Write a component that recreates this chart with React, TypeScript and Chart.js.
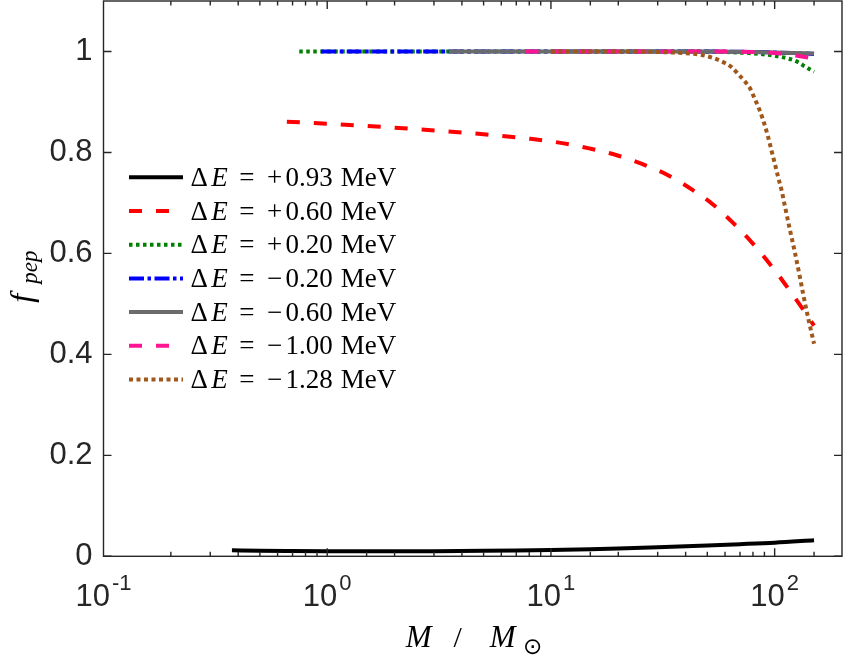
import React, { useEffect, useRef } from 'react';
import { Chart, registerables } from 'chart.js';

Chart.register(...registerables);

// ===== data (M / Msun vs f_pep) =====

const deltaE = ['+0.93', '+0.60', '+0.20', '\u22120.20', '\u22120.60', '\u22121.00', '\u22121.28'];

const mP093 = [0.375, 0.5, 0.7, 1, 1.5, 2, 3, 5, 7, 10, 15, 20, 30, 50, 70, 100, 150];
const fP093 = [0.012, 0.011, 0.0105, 0.0102, 0.01, 0.01, 0.0102, 0.0108, 0.0115, 0.0125, 0.014, 0.0155, 0.018, 0.0215, 0.024, 0.027, 0.032];

const mP060 = [0.66, 1, 2, 5, 8.1, 11.4, 15, 19.7, 25.7, 33.2, 42.4, 53, 65, 79, 94, 111, 132, 150];
const fP060 = [0.861, 0.857, 0.849, 0.836, 0.827, 0.818, 0.8075, 0.7945, 0.7767, 0.7555, 0.7273, 0.697, 0.661, 0.622, 0.582, 0.54, 0.493, 0.457];

const mP020 = [0.75, 1, 2, 5, 10, 20, 40, 60, 75, 87, 101, 115, 127, 138, 150];
const fP020 = [1, 1, 1, 1, 1, 1, 1, 0.999, 0.997, 0.995, 0.991, 0.986, 0.979, 0.969, 0.96];

const mM020 = [0.94, 1, 2, 5, 10, 20, 50, 80, 100, 120, 150];
const fM020 = [1, 1, 1, 1, 1, 1, 1, 0.999, 0.998, 0.997, 0.995];

const mM060 = [3.5, 5, 10, 20, 50, 80, 100, 120, 150];
const fM060 = [1, 1, 1, 1, 1, 0.999, 0.998, 0.997, 0.996];

const mM100 = [7.7, 10, 20, 50, 80, 100, 120, 150];
const fM100 = [1, 1, 1, 1, 0.999, 0.997, 0.993, 0.986];

const mM128 = [10, 20, 30, 41.9, 47.2, 53.2, 60, 64.2, 68.8, 73.8, 77.6, 81.7, 86, 90.6, 93.7, 96.9, 100.3, 103.8, 107.4, 111.2, 117, 123, 129, 135, 142, 150];
const fM128 = [1, 1, 0.999, 0.996, 0.993, 0.987, 0.977, 0.969, 0.955, 0.94, 0.927, 0.905, 0.882, 0.852, 0.829, 0.803, 0.777, 0.75, 0.725, 0.693, 0.647, 0.603, 0.558, 0.513, 0.467, 0.421];

const seriesM = [mP093, mP060, mP020, mM020, mM060, mM100, mM128];
const seriesF = [fP093, fP060, fP020, fM020, fM060, fM100, fM128];

// ===== styles =====

const COLORS = ['#000000', '#ff0000', '#008000', '#0000ff', '#6b6b6b', '#ff1493', '#a0571a'];
const DASHES = [[], [13, 14], [3.5, 3.5], [15, 3.5, 3.5, 3.5], [], [13, 14], [4, 3.5]];
const AXIS = '#262626';

// ===== frame, inward ticks, labels, legend =====

const framePlugin = {
  id: 'frame',
  afterDatasetsDraw(chart: any) {
    const { ctx, chartArea: a, scales } = chart;
    const x = scales.x;
    const y = scales.y;
    ctx.save();
    ctx.strokeStyle = AXIS;
    ctx.lineWidth = 1.4;
    ctx.strokeRect(a.left, a.top, a.right - a.left, a.bottom - a.top);

    const isMajor = (v: number) => Math.abs(Math.log10(v) - Math.round(Math.log10(v))) < 1e-6;
    ctx.beginPath();
    for (const t of x.ticks) {
      const px = x.getPixelForValue(t.value);
      if (px <= a.left + 1 || px >= a.right - 1) continue;
      const len = isMajor(t.value) ? 8 : 4.5;
      ctx.moveTo(px, a.bottom); ctx.lineTo(px, a.bottom - len);
      ctx.moveTo(px, a.top); ctx.lineTo(px, a.top + len);
    }
    for (const t of y.ticks) {
      const py = y.getPixelForValue(t.value);
      ctx.moveTo(a.left, py); ctx.lineTo(a.left + 8, py);
      ctx.moveTo(a.right, py); ctx.lineTo(a.right - 8, py);
    }
    ctx.stroke();

    // x tick labels 10^n
    ctx.fillStyle = AXIS;
    ctx.textBaseline = 'alphabetic';
    ctx.textAlign = 'left';
    for (const t of x.ticks) {
      if (!isMajor(t.value)) continue;
      const px = x.getPixelForValue(t.value);
      const e = Math.round(Math.log10(t.value));
      const sup = e < 0 ? '-' + Math.abs(e) : String(e);
      ctx.font = '31px "Liberation Sans", Arial, sans-serif';
      const wb = ctx.measureText('10').width;
      ctx.font = '22px "Liberation Sans", Arial, sans-serif';
      const ws = ctx.measureText(sup).width;
      const sx = px - (wb + 2 + ws) / 2;
      ctx.font = '31px "Liberation Sans", Arial, sans-serif';
      ctx.fillText('10', sx, a.bottom + 50);
      ctx.font = '22px "Liberation Sans", Arial, sans-serif';
      ctx.fillText(sup, sx + wb + 2, a.bottom + 34);
    }

    // x axis title: M / M_sun
    ctx.fillStyle = '#000';
    const cx = (a.left + a.right) / 2;
    const by = a.bottom + 91;
    ctx.textAlign = 'center';
    ctx.font = 'italic 31px "Liberation Serif", serif';
    ctx.fillText('M', cx - 54, by);
    ctx.font = '30px "Liberation Serif", serif';
    ctx.fillText('/', cx - 15, by);
    ctx.font = 'italic 31px "Liberation Serif", serif';
    ctx.fillText('M', cx + 30, by);
    ctx.font = '23px "DejaVu Sans", sans-serif';
    ctx.textBaseline = 'middle';
    ctx.fillText('\u2299', cx + 60, by + 1);

    // y axis title: f_pep
    const cy = (a.top + a.bottom) / 2;
    ctx.save();
    ctx.translate(32, cy);
    ctx.rotate(-Math.PI / 2);
    ctx.textAlign = 'left';
    ctx.textBaseline = 'alphabetic';
    ctx.font = 'italic 32px "Liberation Serif", serif';
    ctx.fillText('f', -24, 0);
    ctx.font = 'italic 23px "Liberation Serif", serif';
    ctx.fillText('pep', -5, 5);
    ctx.restore();

    // legend
    const em = 27;
    const x0 = a.left + 25.5;
    const x1 = a.left + 79.5;
    const tx = a.left + 84.8;
    chart.data.datasets.forEach((ds: any, i: number) => {
      const ly = a.top + 176.3 + i * 33.7;
      ctx.save();
      ctx.strokeStyle = ds.borderColor;
      ctx.lineWidth = ds.borderWidth;
      ctx.setLineDash(ds.borderDash);
      ctx.beginPath();
      ctx.moveTo(x0, ly);
      ctx.lineTo(x1, ly);
      ctx.stroke();
      ctx.restore();

      const bl = ly + 8.5;
      ctx.fillStyle = '#000';
      ctx.textBaseline = 'alphabetic';
      const put = (txt: string, font: string, at: number, w: number) => {
        ctx.font = font;
        ctx.textAlign = 'center';
        ctx.fillText(txt, tx + (at + w / 2) * em, bl);
      };
      const rm = `${em}px "Liberation Serif", serif`;
      const it = `italic ${em}px "Liberation Serif", serif`;
      put('\u0394', rm, 0, 0.8);
      put('E', it, 0.8, 0.72);
      put('=', rm, 1.79, 0.76);
      put(ds.label.charAt(0), rm, 2.82, 0.76);
      ctx.font = rm;
      ctx.textAlign = 'left';
      ctx.fillText(ds.label.slice(1), tx + 3.6 * em, bl);
      ctx.fillText('MeV', tx + 5.65 * em, bl);
    });
    ctx.restore();
  },
};

// ===== chart =====

function FpepChart() {
  const canvasRef = useRef<HTMLCanvasElement>(null);
  const chartRef = useRef<Chart | null>(null);

  useEffect(() => {
    if (!canvasRef.current) return;
    const ctx = canvasRef.current.getContext('2d');
    if (!ctx) return;

    chartRef.current = new Chart(ctx, {
      type: 'scatter',
      data: {
        datasets: seriesM.map((ms, i) => ({
          label: deltaE[i],
          data: ms.map((m, j) => ({ x: m, y: seriesF[i][j] })),
          borderColor: COLORS[i],
          backgroundColor: COLORS[i],
          borderWidth: 4,
          borderDash: DASHES[i],
          showLine: true,
          pointRadius: 0,
          cubicInterpolationMode: 'monotone',
          order: seriesM.length - i,
        })),
      } as any,
      options: {
        animation: false,
        responsive: true,
        maintainAspectRatio: false,
        layout: { padding: { top: 1, right: 1, left: 0, bottom: 0 } },
        plugins: { legend: { display: false }, tooltip: { enabled: false } },
        scales: {
          x: {
            type: 'logarithmic',
            min: 0.1,
            max: 200,
            grid: { display: false, drawTicks: false },
            border: { display: false },
            ticks: { display: false, autoSkip: false },
            afterFit: (s: any) => { s.height = 105.7; s.paddingLeft = 0; s.paddingRight = 0; },
          },
          y: {
            min: 0,
            max: 1.1,
            grid: { display: false, drawTicks: false },
            border: { display: false },
            ticks: {
              stepSize: 0.2,
              includeBounds: false,
              padding: 11,
              color: AXIS,
              font: { family: '"Liberation Sans", Arial, sans-serif', size: 31 },
              callback: (v: any) => String(Math.round(Number(v) * 10) / 10),
            },
            afterFit: (s: any) => { s.width = 103.5; s.paddingTop = 0; s.paddingBottom = 0; },
          },
        },
      } as any,
      plugins: [framePlugin],
    });

    return () => {
      if (chartRef.current) {
        chartRef.current.destroy();
        chartRef.current = null;
      }
    };
  }, []);

  return <canvas ref={canvasRef} />;
}

export default function App() {
  return (
    <div style={{ position: 'fixed', left: 0, top: 0, width: 843, height: 662, background: '#fff' }}>
      <FpepChart />
    </div>
  );
}
